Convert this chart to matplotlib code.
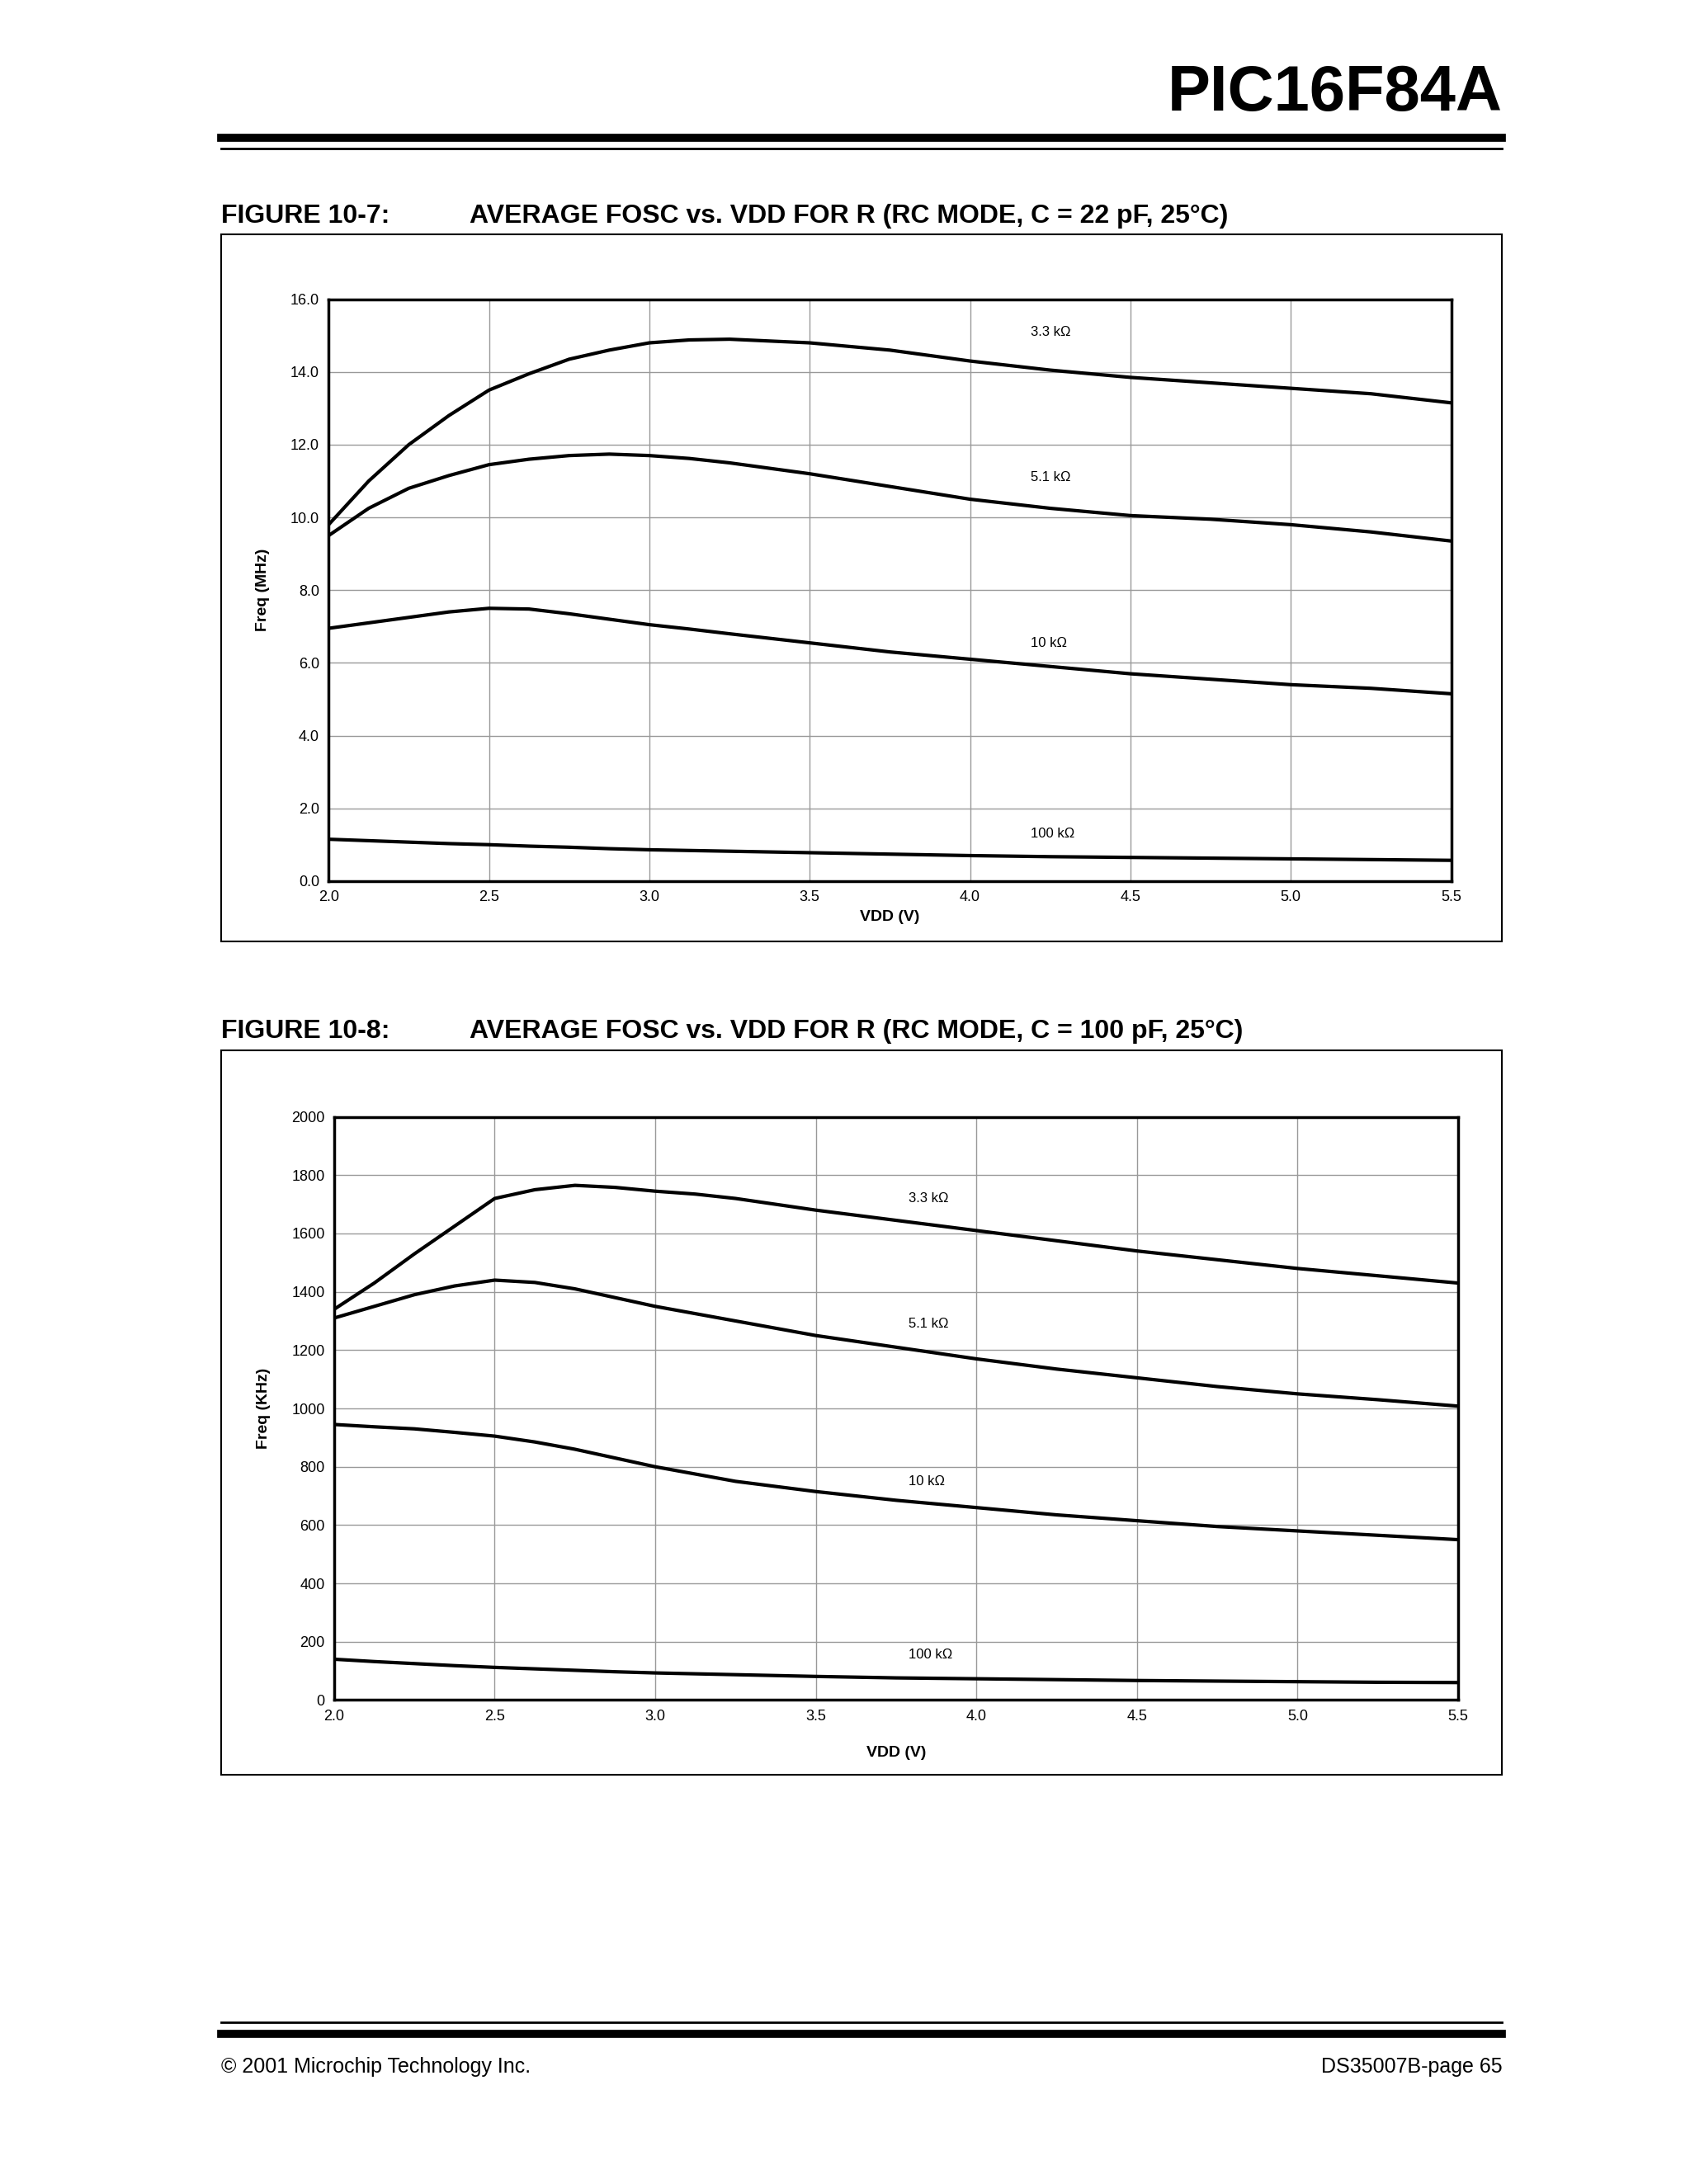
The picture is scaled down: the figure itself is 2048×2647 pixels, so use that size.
import matplotlib
matplotlib.use('Agg')
import matplotlib.pyplot as plt
from matplotlib.patches import Rectangle
from matplotlib.lines import Line2D

plt.rcParams['font.family'] = ['Liberation Sans', 'DejaVu Sans']

vdd = [2.0, 2.125, 2.25, 2.375, 2.5, 2.625, 2.75, 2.875, 3.0, 3.125, 3.25,
       3.5, 3.75, 4.0, 4.25, 4.5, 4.75, 5.0, 5.25, 5.5]

# figure 10-7, MHz
f22_3k3 = [9.8, 11.0, 12.0, 12.8, 13.5, 13.95, 14.35, 14.6, 14.8, 14.88, 14.9,
           14.8, 14.6, 14.3, 14.05, 13.85, 13.7, 13.55, 13.4, 13.15]
f22_5k1 = [9.5, 10.25, 10.8, 11.15, 11.45, 11.6, 11.7, 11.74, 11.7, 11.62, 11.5,
           11.2, 10.85, 10.5, 10.25, 10.05, 9.95, 9.8, 9.6, 9.35]
f22_10k = [6.95, 7.1, 7.25, 7.4, 7.5, 7.48, 7.35, 7.2, 7.05, 6.93, 6.8,
           6.55, 6.3, 6.1, 5.9, 5.7, 5.55, 5.4, 5.3, 5.15]
f22_100k = [1.15, 1.11, 1.07, 1.03, 1.0, 0.96, 0.93, 0.89, 0.86, 0.84, 0.82,
            0.78, 0.74, 0.70, 0.67, 0.65, 0.63, 0.61, 0.59, 0.57]

# figure 10-8, KHz
f100_3k3 = [1340, 1430, 1530, 1625, 1720, 1750, 1765, 1758, 1745, 1735, 1720,
            1680, 1645, 1610, 1575, 1540, 1510, 1480, 1455, 1430]
f100_5k1 = [1310, 1350, 1390, 1420, 1440, 1432, 1410, 1380, 1350, 1325, 1300,
            1250, 1210, 1170, 1135, 1105, 1075, 1050, 1030, 1008]
f100_10k = [945, 937, 930, 918, 905, 885, 860, 830, 800, 775, 750,
            715, 685, 660, 635, 615, 595, 580, 565, 550]
f100_100k = [140, 132, 125, 118, 112, 107, 102, 97, 93, 90, 87,
             81, 76, 73, 70, 67, 65, 63, 61, 60]

labels = ['3.3 k\u03a9', '5.1 k\u03a9', '10 k\u03a9', '100 k\u03a9']

W, H = 1224.0, 1584.0
fig = plt.figure(figsize=(20.48, 26.47), dpi=100)

def fx(x): return x / W
def fy(y): return 1 - y / H

def hline(y, lw, x0=160, x1=1088):
    fig.add_artist(Line2D([fx(x0), fx(x1)], [fy(y), fy(y)], color='black', lw=lw))

fig.text(fx(1088), fy(68), 'PIC16F84A', ha='right', va='center', fontsize=56, fontweight='bold')
hline(100, 7)
hline(108, 2)
hline(1467, 2)
hline(1475, 7)
fig.text(fx(160), fy(1499), '\u00a9 2001 Microchip Technology Inc.', ha='left', va='center', fontsize=18)
fig.text(fx(1088), fy(1499), 'DS35007B-page 65', ha='right', va='center', fontsize=18)

def panel(cap_y, cap_num, cap_title, box, ax_rect, series, ylim, yticks, yfmt, ylabel, lab_pos, xlabel_pos):
    fig.text(fx(160), fy(cap_y), cap_num, ha='left', va='center', fontsize=23, fontweight='heavy')
    fig.text(fx(340), fy(cap_y), cap_title, ha='left', va='center', fontsize=23, fontweight='heavy')
    x0, y0, x1, y1 = box
    fig.add_artist(Rectangle((fx(x0), fy(y1)), fx(x1) - fx(x0), fy(y0) - fy(y1),
                             fill=False, ec='black', lw=1.5, transform=fig.transFigure))
    a0, b0, a1, b1 = ax_rect
    ax = fig.add_axes([fx(a0), fy(b1), fx(a1) - fx(a0), fy(b0) - fy(b1)])
    for s in series:
        ax.plot(vdd, s, color='black', lw=3, solid_joinstyle='round')
    ax.set_xlim(2.0, 5.5)
    ax.set_ylim(*ylim)
    ax.set_xticks([2.0, 2.5, 3.0, 3.5, 4.0, 4.5, 5.0, 5.5])
    ax.set_xticklabels(['2.0', '2.5', '3.0', '3.5', '4.0', '4.5', '5.0', '5.5'])
    ax.set_yticks(yticks)
    ax.set_yticklabels([yfmt.format(v) for v in yticks])
    ax.grid(True, color='#999999', lw=1)
    ax.tick_params(length=0, labelsize=13, pad=8)
    for sp in ax.spines.values():
        sp.set_linewidth(2.5)
    ax.set_ylabel(ylabel, fontsize=14, fontweight='bold', labelpad=18)
    for lab, (x, y) in zip(labels, lab_pos):
        ax.text(x, y, lab, fontsize=12, ha='left', va='center')
    ax.text(xlabel_pos[0], xlabel_pos[1], 'VDD (V)', transform=ax.transAxes,
            fontsize=14, fontweight='bold', ha='center', va='center')
    return ax

panel(157, 'FIGURE 10-7:', 'AVERAGE FOSC vs. VDD FOR R (RC MODE, C = 22 pF, 25\u00b0C)',
      (160, 170, 1088, 683), (238, 217, 1051, 639),
      [f22_3k3, f22_5k1, f22_10k, f22_100k], (0, 16),
      [0, 2, 4, 6, 8, 10, 12, 14, 16], '{:.1f}', 'Freq (MHz)',
      [(4.19, 15.1), (4.19, 11.1), (4.19, 6.55), (4.19, 1.3)], (0.5, -0.062))

panel(748, 'FIGURE 10-8:', 'AVERAGE FOSC vs. VDD FOR R (RC MODE, C = 100 pF, 25\u00b0C)',
      (160, 762, 1088, 1287), (242, 810, 1056, 1233),
      [f100_3k3, f100_5k1, f100_10k, f100_100k], (0, 2000),
      list(range(0, 2001, 200)), '{:d}', 'Freq (KHz)',
      [(3.79, 1720), (3.79, 1290), (3.79, 750), (3.79, 155)], (0.5, -0.09))

fig.savefig('out.png', dpi=100)
